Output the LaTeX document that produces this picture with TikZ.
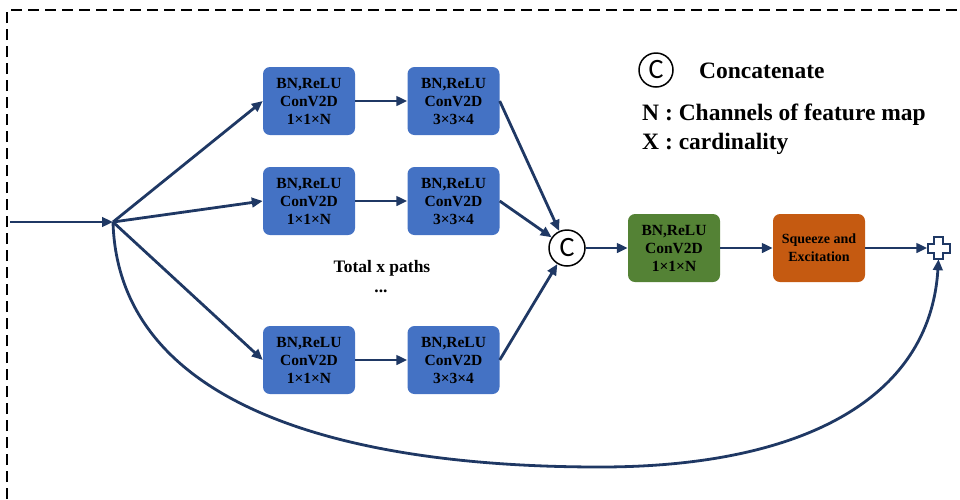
\documentclass[tikz,border=0pt]{standalone}
\usepackage{fontspec}
\setmainfont{Liberation Serif}
\newfontfamily\cfont{Carlito}
\usetikzlibrary{arrows.meta}
\definecolor{navy}{HTML}{1F3864}
\definecolor{boxblue}{HTML}{4472C4}
\definecolor{boxgreen}{HTML}{548235}
\definecolor{boxorange}{HTML}{C55A11}
\tikzset{
  arr/.style={draw=navy, line width=2.8pt, -{Triangle[length=11pt,width=9.5pt]}},
  blk/.style={rounded corners=7pt, minimum width=92pt, minimum height=68pt, inner sep=0pt,
    align=center, text=black, font=\bfseries\fontsize{15.5}{18}\selectfont},
  blue/.style={blk, fill=boxblue},
  green/.style={blk, fill=boxgreen},
  orange/.style={blk, fill=boxorange, font=\bfseries\fontsize{14}{18}\selectfont},
  cat/.style={circle, draw=black, line width=1.5pt, fill=white, inner sep=0pt, font=\cfont\fontsize{28}{28}\selectfont},
  lbl/.style={inner sep=0pt, anchor=base west, font=\bfseries\fontsize{23.5}{26}\selectfont},
}
\begin{document}
\begin{tikzpicture}[x=1pt,y=-1pt]
\useasboundingbox (0,0) rectangle (960,499);
% dashed frame
\draw[line width=2.4pt, dash pattern=on 11pt off 6pt] (7,499) -- (7,10) -- (962,10);
% blocks
\node[blue] (a1) at (309,101) {BN,ReLU\\ConV2D\\1×1×N};
\node[blue] (b1) at (453.5,101) {BN,ReLU\\ConV2D\\3×3×4};
\node[blue] (a2) at (309,201) {BN,ReLU\\ConV2D\\1×1×N};
\node[blue] (b2) at (453.5,201) {BN,ReLU\\ConV2D\\3×3×4};
\node[blue] (a3) at (309,360) {BN,ReLU\\ConV2D\\1×1×N};
\node[blue] (b3) at (453.5,360) {BN,ReLU\\ConV2D\\3×3×4};
\node[cat, minimum size=36pt] (c) at (567,248) {C};
\node[green] (g) at (674,248) {BN,ReLU\\ConV2D\\1×1×N};
\node[orange] (se) at (819,248) {Squeeze and\\Excitation};
\node[minimum size=22pt, inner sep=0pt] (plus) at (938.5,248) {};
\draw[navy, fill=white, line width=2pt, shift={(plus.center)}]
  (-4.5,-11) -- (4.5,-11) -- (4.5,-4.5) -- (11,-4.5) -- (11,4.5) -- (4.5,4.5) -- (4.5,11) -- (-4.5,11) -- (-4.5,4.5) -- (-11,4.5) -- (-11,-4.5) -- (-4.5,-4.5) -- cycle;
% text
\node[font=\bfseries\fontsize{17.5}{18}\selectfont, inner sep=0pt] (tp) at (382,268) {Total x paths};
\node[font=\bfseries\fontsize{17.5}{18}\selectfont, inner sep=0pt] (dots) at (381,291) {...};
% legend
\node[cat, minimum size=34pt] (lc) at (656,70) {C};
\node[lbl] (lconcat) at (699,78) {Concatenate};
\node[lbl] (ln) at (642,120) {N : Channels of feature map};
\node[lbl] (lx) at (642,149) {X : cardinality};
% connectors
\coordinate (in) at (10,222);
\coordinate (hub) at (113,222);
\draw[arr] (in) -- (hub);
\draw[arr] (hub) -- (a1.west);
\draw[arr] (hub) -- (a2.west);
\draw[arr] (hub) -- (a3.west);
\draw[arr] (a1) -- (b1);
\draw[arr] (a2) -- (b2);
\draw[arr] (a3) -- (b3);
\draw[arr] (b1.east) -- (c);
\draw[arr] (b2.east) -- (c);
\draw[arr] (b3.east) -- (c);
\draw[arr] (c) -- (g);
\draw[arr] (g) -- (se);
\draw[arr] (se) -- (plus.west);
\coordinate (low) at (600,467);
\draw[arr] (hub) .. controls (118,400) and (330,467) .. (low) .. controls (800,467) and (930,400) .. (plus.south);
\end{tikzpicture}
\end{document}
